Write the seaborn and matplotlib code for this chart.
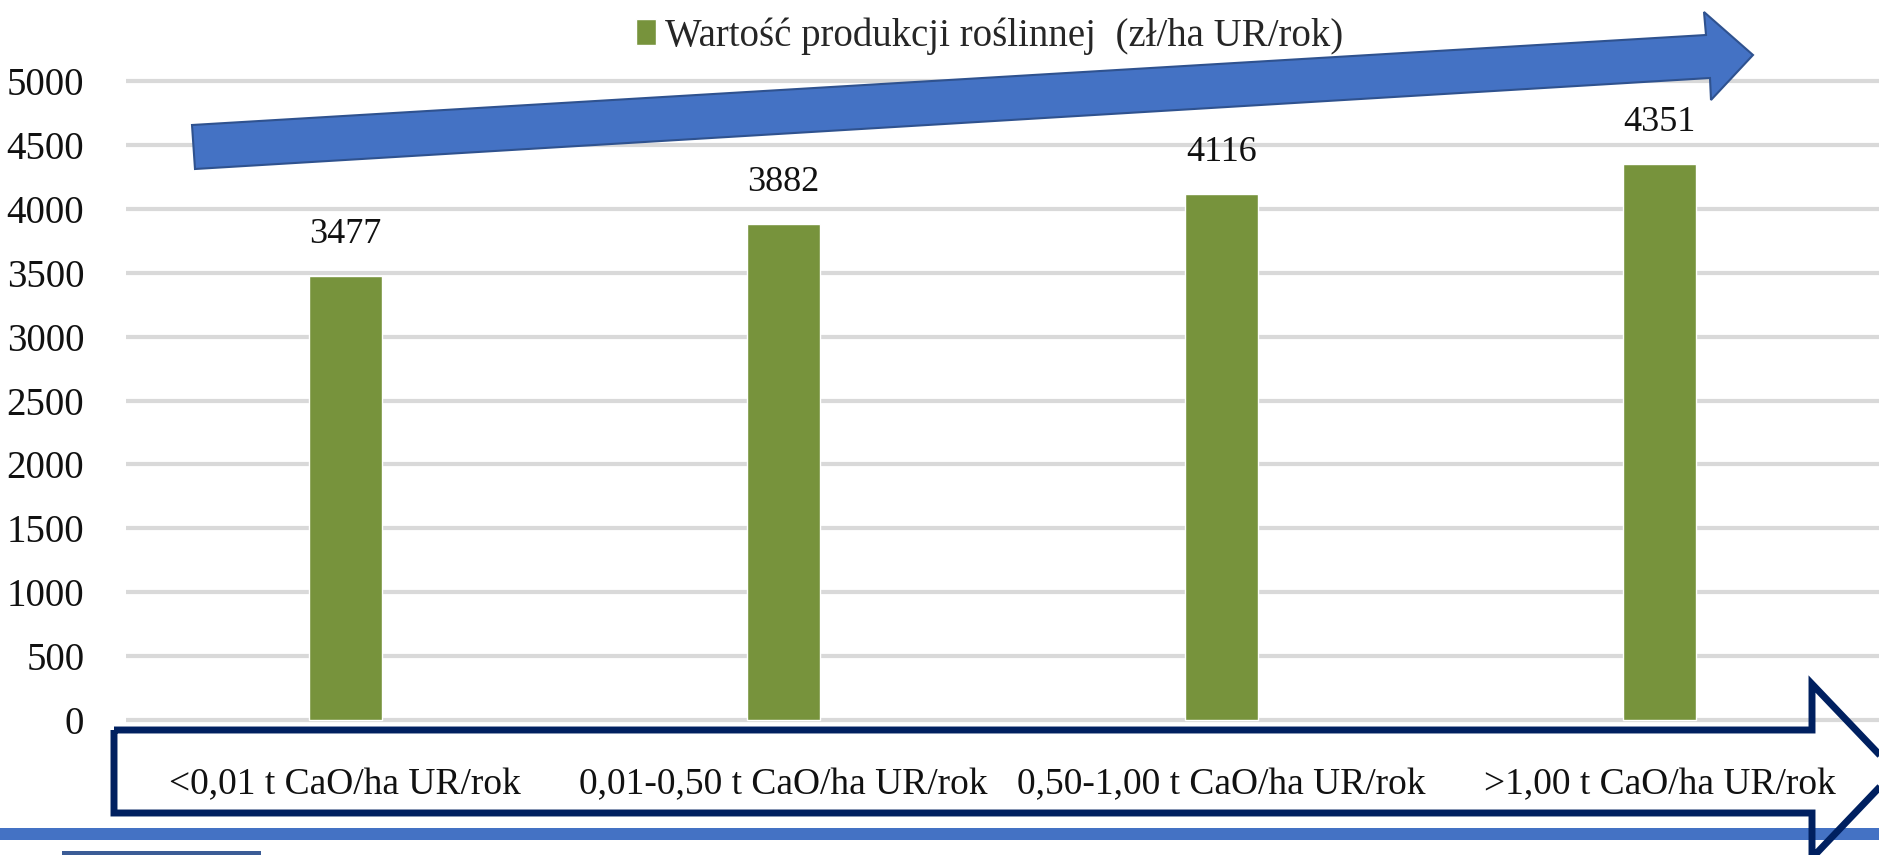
import pandas as pd
import seaborn as sns
import matplotlib.pyplot as plt
from matplotlib.patches import Polygon, Rectangle, Patch

# dane z wykresu
kategorie = ["<0,01 t CaO/ha UR/rok", "0,01-0,50 t CaO/ha UR/rok",
             "0,50-1,00 t CaO/ha UR/rok", ">1,00 t CaO/ha UR/rok"]
wartosci = [3477, 3882, 4116, 4351]
seria = "Wartość produkcji roślinnej  (zł/ha UR/rok)"
y_ticks = [0, 500, 1000, 1500, 2000, 2500, 3000, 3500, 4000, 4500, 5000]

W, H = 1879, 855
kolor = "#77933C"
niebieski = "#4472C4"

sns.set_theme(style="white")
plt.rcParams['font.family'] = ['Liberation Serif', 'DejaVu Serif']

df = pd.DataFrame({"kategoria": kategorie, "wartosc": wartosci})


def fx(x):
    return x / W


def fy(y):
    return 1 - y / H


fig = plt.figure(figsize=(W / 100, H / 100), dpi=100)
skala = (720 - 81) / 5000
ax = fig.add_axes([fx(126), fy(720 + 50 * skala), (W - 126) / W, (5100 * skala) / H])

sns.barplot(data=df, x="kategoria", y="wartosc", color=kolor, saturation=1,
            width=0.167, ax=ax)
ax.set_xlim(-0.5, 3.5)
ax.set_ylim(-50, 5050)
ax.set_yticks(y_ticks)
ax.grid(axis='y', color='#d9d9d9', linewidth=3)
ax.set_axisbelow(True)
for s in ax.spines.values():
    s.set_visible(False)
ax.set_xlabel("")
ax.set_ylabel("")
ax.tick_params(axis='y', length=0, pad=30, labelsize=28, labelcolor='#111111')
ax.tick_params(axis='x', length=0, pad=30, labelsize=27, labelcolor='#111111')

ax.bar_label(ax.containers[0], padding=18, fontsize=26, color='#111111')

# legenda u gory
fig.legend(handles=[Patch(facecolor=kolor)], labels=[seria], loc='center',
           bbox_to_anchor=(fx(990), fy(36)), frameon=False, fontsize=28,
           handlelength=0.5, handleheight=0.65, handletextpad=0.25)

# niebieska strzalka (dekoracja)
gora = [(192, 125), (1706, 35), (1704, 12), (1753, 55), (1711, 100), (1710, 78), (195, 169)]
fig.add_artist(Polygon([(fx(x), fy(y)) for x, y in gora], closed=True,
                       transform=fig.transFigure, facecolor=niebieski,
                       edgecolor="#2F528F", linewidth=1.5, zorder=5))

# pasek na dole
fig.add_artist(Rectangle((0, fy(840)), 1, 12 / H, transform=fig.transFigure,
                         facecolor=niebieski, edgecolor='none', zorder=4))
fig.add_artist(Rectangle((fx(62), 0), 199 / W, 4 / H, transform=fig.transFigure,
                         facecolor="#3B5C96", edgecolor='none', zorder=4))

# strzalka obrysowana wokol etykiet osi x
dol = [(114, 730), (1812, 730), (1812, 684), (1895, 771), (1812, 858), (1812, 813), (114, 813)]
fig.add_artist(Polygon([(fx(x), fy(y)) for x, y in dol], closed=True,
                       transform=fig.transFigure, fill=False,
                       edgecolor="#002060", linewidth=5, joinstyle='miter', zorder=6))

fig.savefig("out.png", dpi=100)
